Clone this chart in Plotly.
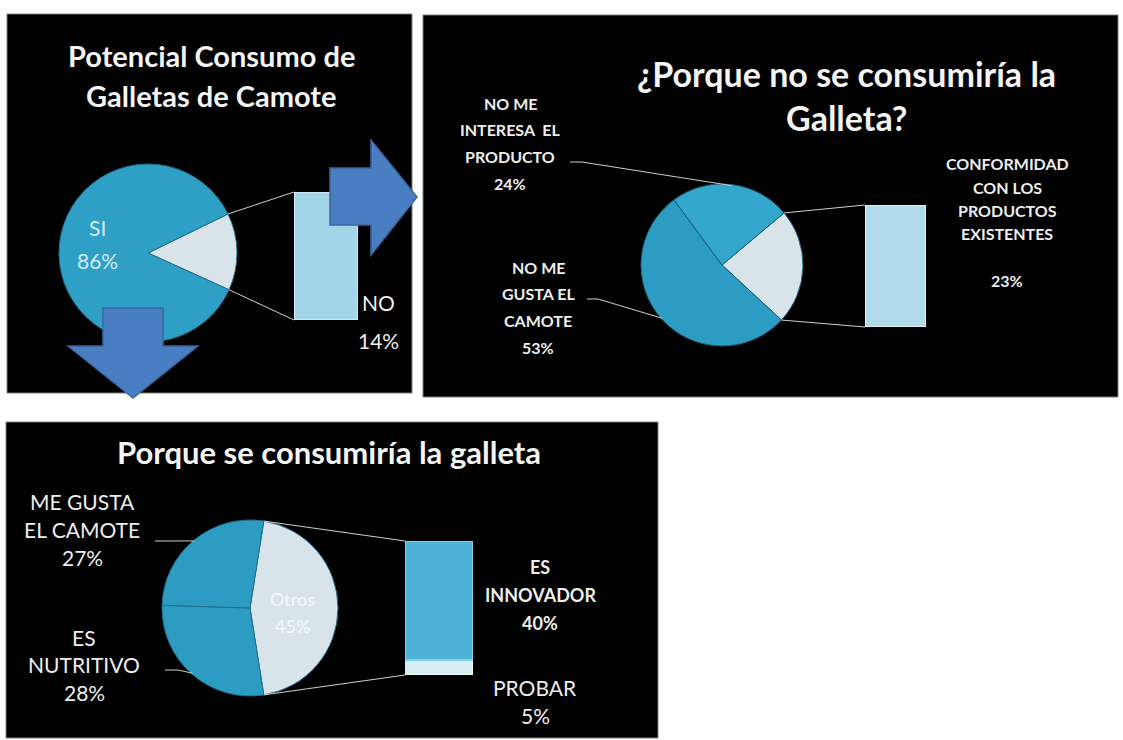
import math
import plotly.graph_objects as go

# ---- data -------------------------------------------------------------
consumo_labels = ["NO", "SI"]
consumo_values = [14, 86]

no_consumo_labels = ["CONFORMIDAD<br>CON LOS<br>PRODUCTOS<br>EXISTENTES<br>",
                     "NO ME<br>GUSTA EL<br>CAMOTE",
                     "NO ME<br>INTERESA  EL<br>PRODUCTO"]
no_consumo_values = [23, 53, 24]

otros_labels = ["PROBAR", "ES<br>INNOVADOR"]
otros_values = [5, 40]

si_consumo_labels = ["Otros", "ES<br>NUTRITIVO", "ME GUSTA<br>EL CAMOTE"]
si_consumo_values = [sum(otros_values), 28, 27]

titles = ["Potencial Consumo de<br>Galletas de Camote",
          "¿Porque no se consumiría la<br>Galleta?",
          "Porque se consumiría la galleta"]

# ---- page geometry (pixels) -------------------------------------------
W, H = 1123, 740
FONT = "Lato"
TEAL = "#2E9FC5"
LIGHT = "#D9E3EA"
ARROW = "#4A7EC2"
LEADER = "#CFCFCF"


def px(x):
    return x / W


def py(y):
    return 1 - y / H


shapes = []
annotations = []


def panel(x0, y0, x1, y1):
    shapes.append(dict(type="rect", xref="paper", yref="paper",
                       x0=px(x0), x1=px(x1), y0=py(y1), y1=py(y0),
                       fillcolor="black", line=dict(color="#7a7a7a", width=1),
                       layer="below"))


def text_lines(text, cx, y0, dy, size, color="#EEEEEE", weight="normal"):
    for i, t in enumerate(text.split("<br>")):
        if t:
            annotations.append(dict(text=t, x=px(cx), y=py(y0 + i * dy),
                                    xref="paper", yref="paper", showarrow=False,
                                    xanchor="center", yanchor="middle",
                                    font=dict(family=FONT, size=size, color=color,
                                              weight=weight)))


def pie_domain(cx, cy, r):
    return dict(x=[px(cx - r), px(cx + r)], y=[py(cy + r), py(cy - r)])


def edge_point(cx, cy, r, clock_deg):
    a = math.radians(clock_deg)
    return cx + r * math.sin(a), cy - r * math.cos(a)


def slice_angles(values, rotation):
    total = sum(values)
    out, start = [], rotation
    for v in values:
        span = 360 * v / total
        out.append((start, start + span))
        start += span
    return out


def line(x0, y0, x1, y1, color=LEADER, width=1):
    shapes.append(dict(type="line", xref="paper", yref="paper",
                       x0=px(x0), y0=py(y0), x1=px(x1), y1=py(y1),
                       line=dict(color=color, width=width), layer="above"))


def leader(points):
    path = "M " + " L ".join(f"{px(x)},{py(y)}" for x, y in points)
    shapes.append(dict(type="path", xref="paper", yref="paper", path=path,
                       line=dict(color=LEADER, width=1), layer="above"))


def block_arrow(points):
    path = "M " + " L ".join(f"{px(x)},{py(y)}" for x, y in points) + " Z"
    shapes.append(dict(type="path", xref="paper", yref="paper", path=path,
                       fillcolor=ARROW, line=dict(color="#3A66A2", width=1.5),
                       layer="above"))


panel(7, 14, 412, 393)
panel(423, 15, 1118, 397)
panel(6, 422, 658, 738)

fig = go.Figure()

# ---- chart 1: Potencial consumo ----------------------------------------
c1 = (148, 253, 89)
rot1 = 64
fig.add_trace(go.Pie(labels=consumo_labels, values=consumo_values, sort=False,
                     direction="clockwise", rotation=rot1, textinfo="none",
                     domain=pie_domain(*c1), showlegend=False,
                     marker=dict(colors=[LIGHT, TEAL],
                                 line=dict(color="#1F6F8C", width=1))))
bar1 = dict(x0=294, x1=358, y0=192, y1=320)
fig.add_trace(go.Bar(x=[consumo_labels[0]], y=[consumo_values[0]], width=1,
                     xaxis="x", yaxis="y", showlegend=False,
                     marker=dict(color="#A3D5E9", line=dict(color="#D3EDF6", width=2))))
a1 = slice_angles(consumo_values, rot1)[0]
p_top = edge_point(c1[0], c1[1], c1[2], a1[0])
p_bot = edge_point(c1[0], c1[1], c1[2], a1[1])
line(*p_top, bar1["x0"], bar1["y0"])
line(*p_bot, bar1["x0"], bar1["y1"])

text_lines(titles[0], 211, 55, 40, 29, "#F4F4F4", "bold")
text_lines(f"{consumo_labels[1]}<br>{consumo_values[1]}%", 97, 228, 32, 21,
           "rgba(232,244,249,0.9)")
text_lines(f"{consumo_labels[0]}<br>{consumo_values[0]}%", 378, 302, 38, 21, "#EFEFEF")

# arrows leading to the detail charts
block_arrow([(330, 168), (371, 168), (371, 140), (417, 197), (371, 255),
             (371, 225), (330, 225)])
block_arrow([(103, 308), (163, 308), (163, 346), (198, 346), (133, 398),
             (68, 346), (103, 346)])

# ---- chart 2: por qué no se consumiría ----------------------------------
c2 = (722, 265, 81)
rot2 = 50
fig.add_trace(go.Pie(labels=no_consumo_labels, values=no_consumo_values, sort=False,
                     direction="clockwise", rotation=rot2, textinfo="none",
                     domain=pie_domain(*c2), showlegend=False,
                     marker=dict(colors=[LIGHT, "#2C9CC3", "#33A6CC"],
                                 line=dict(color="#1B5F78", width=1))))
bar2 = dict(x0=865, x1=926, y0=205, y1=327)
fig.add_trace(go.Bar(x=["C"], y=[no_consumo_values[0]], width=1,
                     xaxis="x2", yaxis="y2", showlegend=False,
                     marker=dict(color="#AEDAE9", line=dict(color="#DDF1F7", width=2))))
ang2 = slice_angles(no_consumo_values, rot2)
p_top = edge_point(c2[0], c2[1], c2[2], ang2[0][0])
p_bot = edge_point(c2[0], c2[1], c2[2], ang2[0][1])
line(*p_top, bar2["x0"], bar2["y0"])
line(*p_bot, bar2["x0"], bar2["y1"])

text_lines(titles[1], 846, 73, 44, 34, "#F4F4F4", "bold")
text_lines(f"{no_consumo_labels[2]}<br>{no_consumo_values[2]}%", 510, 103, 26.7, 16,
           "#EEEEEE", "bold")
text_lines(f"{no_consumo_labels[1]}<br>{no_consumo_values[1]}%", 538, 267, 26.7, 16,
           "#EEEEEE", "bold")
text_lines(f"{no_consumo_labels[0]}<br>{no_consumo_values[0]}%", 1007, 164, 23.3, 16,
           "#EEEEEE", "bold")

mid = sum(ang2[2]) / 2
leader([(570, 162), (582, 162), edge_point(c2[0], c2[1], c2[2] - 1, mid)])
mid = sum(ang2[1]) / 2
leader([(587, 299), (598, 299), edge_point(c2[0], c2[1], c2[2] - 1, mid)])

# ---- chart 3: por qué se consumiría -------------------------------------
c3 = (250, 608, 88)
rot3 = 9
fig.add_trace(go.Pie(labels=si_consumo_labels, values=si_consumo_values, sort=False,
                     direction="clockwise", rotation=rot3, textinfo="none",
                     domain=pie_domain(*c3), showlegend=False,
                     marker=dict(colors=[LIGHT, "#2D9CC3", "#2D9CC3"],
                                 line=dict(color="#1F6F8C", width=1))))
bar3 = dict(x0=405, x1=473, y0=541, y1=675)
fig.add_trace(go.Bar(x=["O"], y=[otros_values[0]], width=1, xaxis="x3", yaxis="y3",
                     showlegend=False,
                     marker=dict(color="#D6EDF4", line=dict(color="#F2FAFC", width=1.5))))
fig.add_trace(go.Bar(x=["O"], y=[otros_values[1]], width=1, xaxis="x3", yaxis="y3",
                     showlegend=False,
                     marker=dict(color="#4DB2D6", line=dict(color="#86CFE8", width=2))))
ang3 = slice_angles(si_consumo_values, rot3)
p_top = edge_point(c3[0], c3[1], c3[2], ang3[0][0])
p_bot = edge_point(c3[0], c3[1], c3[2], ang3[0][1])
line(*p_top, bar3["x0"], bar3["y0"])
line(*p_bot, bar3["x0"], bar3["y1"])

text_lines(titles[2], 329, 452, 40, 31, "#F4F4F4", "bold")
text_lines(f"{si_consumo_labels[0]}<br>{si_consumo_values[0]}%", 292, 599, 27, 18,
           "rgba(255,255,255,0.78)")
text_lines(f"{si_consumo_labels[2]}<br>{si_consumo_values[2]}%", 82, 502, 27.5, 21)
text_lines(f"{si_consumo_labels[1]}<br>{si_consumo_values[1]}%", 84, 637, 27.5, 21)
text_lines(f"{otros_labels[1]}<br>{otros_values[1]}%", 540, 567, 28, 18,
           "#EEEEEE", "bold")
text_lines(f"{otros_labels[0]}<br>{otros_values[0]}%", 535, 687, 28, 21)

mid = sum(ang3[2]) / 2
leader([(155, 541), (167, 541), edge_point(c3[0], c3[1], c3[2] - 1, mid)])
mid = sum(ang3[1]) / 2
leader([(165, 670), (178, 670), edge_point(c3[0], c3[1], c3[2] - 1, mid)])

# ---- axes hosting the bar-of-pie columns --------------------------------
def bar_axes(b, total):
    xa = dict(domain=[px(b["x0"]), px(b["x1"])], range=[-0.5, 0.5], visible=False,
              fixedrange=True)
    ya = dict(domain=[py(b["y1"]), py(b["y0"])], range=[0, total], visible=False,
              fixedrange=True)
    return xa, ya


xa1, ya1 = bar_axes(bar1, consumo_values[0])
xa2, ya2 = bar_axes(bar2, no_consumo_values[0])
xa3, ya3 = bar_axes(bar3, sum(otros_values))
ya2["anchor"] = "x2"
ya3["anchor"] = "x3"
xa2["anchor"] = "y2"
xa3["anchor"] = "y3"

fig.update_layout(
    width=W, height=H, margin=dict(l=0, r=0, t=0, b=0),
    paper_bgcolor="white", plot_bgcolor="rgba(0,0,0,0)",
    barmode="stack", bargap=0,
    xaxis=xa1, yaxis=ya1, xaxis2=xa2, yaxis2=ya2, xaxis3=xa3, yaxis3=ya3,
    shapes=shapes, annotations=annotations,
    font=dict(family=FONT),
)

fig.write_html("out.html")
